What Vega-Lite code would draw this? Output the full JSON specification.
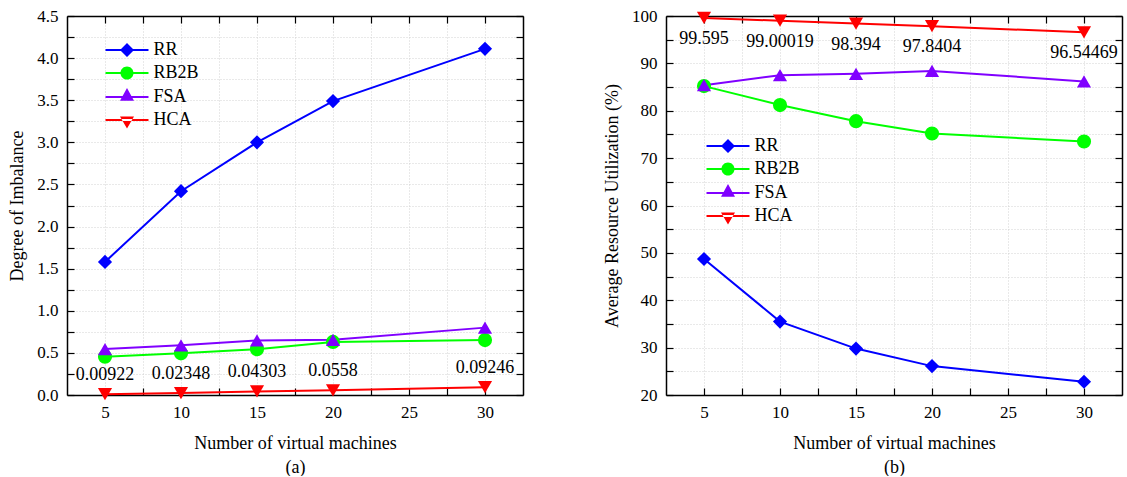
{
  "$schema": "https://vega.github.io/schema/vega-lite/v6.json",
  "background": "white",
  "padding": {"left": 8, "top": 7, "right": 2, "bottom": 0},
  "autosize": {"type": "pad"},
  "bounds": "flush",
  "spacing": 143,
  "config": {
    "font": "Liberation Serif",
    "view": {"stroke": null},
    "axis": {
      "labelFont": "Liberation Serif", "labelFontSize": 17, "labelColor": "black",
      "titleFont": "Liberation Serif", "titleFontSize": 18, "titleFontWeight": "normal", "titleColor": "black",
      "domainColor": "black", "domainWidth": 1.5,
      "tickColor": "black", "tickWidth": 1.2, "tickSize": -7,
      "gridColor": "#c8c8c8", "gridDash": [1, 2], "gridWidth": 0.8,
      "labelPadding": 16, "labelOverlap": false, "labelFlush": false, "labelBound": false
    },
    "legend": {
      "title": null, "orient": "none", "padding": 0,
      "symbolSize": 196, "symbolStrokeWidth": 0, "symbolOpacity": 1,
      "labelFont": "Liberation Serif", "labelFontSize": 18, "labelColor": "black",
      "labelOffset": 17.5, "rowPadding": 5
    }
  },
  "datasets": {
    "imbalance": [
      {"vm": 5, "algo": "RR", "value": 1.58},
      {"vm": 10, "algo": "RR", "value": 2.42},
      {"vm": 15, "algo": "RR", "value": 3.0},
      {"vm": 20, "algo": "RR", "value": 3.49},
      {"vm": 30, "algo": "RR", "value": 4.11},
      {"vm": 5, "algo": "RB2B", "value": 0.455},
      {"vm": 10, "algo": "RB2B", "value": 0.495},
      {"vm": 15, "algo": "RB2B", "value": 0.543},
      {"vm": 20, "algo": "RB2B", "value": 0.63},
      {"vm": 30, "algo": "RB2B", "value": 0.652},
      {"vm": 5, "algo": "FSA", "value": 0.545},
      {"vm": 10, "algo": "FSA", "value": 0.59},
      {"vm": 15, "algo": "FSA", "value": 0.648},
      {"vm": 20, "algo": "FSA", "value": 0.655},
      {"vm": 30, "algo": "FSA", "value": 0.8},
      {"vm": 5, "algo": "HCA", "value": 0.00922},
      {"vm": 10, "algo": "HCA", "value": 0.02348},
      {"vm": 15, "algo": "HCA", "value": 0.04303},
      {"vm": 20, "algo": "HCA", "value": 0.0558},
      {"vm": 30, "algo": "HCA", "value": 0.09246}
    ],
    "utilization": [
      {"vm": 5, "algo": "RR", "value": 48.7},
      {"vm": 10, "algo": "RR", "value": 35.5},
      {"vm": 15, "algo": "RR", "value": 29.8},
      {"vm": 20, "algo": "RR", "value": 26.1},
      {"vm": 30, "algo": "RR", "value": 22.8},
      {"vm": 5, "algo": "RB2B", "value": 85.2},
      {"vm": 10, "algo": "RB2B", "value": 81.2},
      {"vm": 15, "algo": "RB2B", "value": 77.8},
      {"vm": 20, "algo": "RB2B", "value": 75.2},
      {"vm": 30, "algo": "RB2B", "value": 73.5},
      {"vm": 5, "algo": "FSA", "value": 85.4},
      {"vm": 10, "algo": "FSA", "value": 87.5},
      {"vm": 15, "algo": "FSA", "value": 87.8},
      {"vm": 20, "algo": "FSA", "value": 88.4},
      {"vm": 30, "algo": "FSA", "value": 86.2},
      {"vm": 5, "algo": "HCA", "value": 99.595},
      {"vm": 10, "algo": "HCA", "value": 99.00019},
      {"vm": 15, "algo": "HCA", "value": 98.394},
      {"vm": 20, "algo": "HCA", "value": 97.8404},
      {"vm": 30, "algo": "HCA", "value": 96.54469}
    ]
  },
  "hconcat": [
    {
      "width": 456, "height": 379,
      "data": {"name": "imbalance"},
      "resolve": {"scale": {"shape": "independent", "color": "independent"}, "axis": {"x": "independent", "y": "independent"}},
      "layer": [
        {
          "mark": {"type": "line", "strokeWidth": 2},
          "encoding": {
            "x": {"field": "vm", "type": "quantitative", "scale": {"domain": [2.5, 32.5], "nice": false, "zero": false},
              "axis": {"orient": "bottom", "values": [5, 7.5, 10, 12.5, 15, 17.5, 20, 22.5, 25, 27.5, 30],
                "labelExpr": "datum.value % 5 === 0 ? datum.label : ''", "grid": true,
                "title": ["Number of virtual machines", "(a)"], "titlePadding": 14, "titleLineHeight": 24,
                "encode": {"ticks": {"y2": {"condition": {"test": "datum.value % 5 === 0", "value": -7}, "value": -4}}}}},
            "y": {"field": "value", "type": "quantitative", "scale": {"domain": [0, 4.5], "nice": false, "zero": false},
              "axis": {"orient": "left", "values": [0, 0.25, 0.5, 0.75, 1, 1.25, 1.5, 1.75, 2, 2.25, 2.5, 2.75, 3, 3.25, 3.5, 3.75, 4, 4.25, 4.5],
                "format": ".1f", "labelExpr": "round(datum.value * 4) % 2 === 0 ? datum.label : ''", "grid": true,
                "title": "Degree of Imbalance", "titlePadding": 10,
                "encode": {"ticks": {"x2": {"condition": {"test": "round(datum.value * 4) % 2 === 0", "value": 7}, "value": 4}}}}},
            "color": {"field": "algo", "type": "nominal", "scale": {"domain": ["RR", "RB2B", "FSA", "HCA"], "range": ["#0000ff", "#00ff00", "#8000ff", "#ff0000"]}, "legend": null}
          }
        },
        {
          "mark": {"type": "point", "filled": true, "opacity": 1, "size": 200},
          "encoding": {
            "x": {"field": "vm", "type": "quantitative", "axis": null},
            "y": {"field": "value", "type": "quantitative", "axis": null},
            "color": {"field": "algo", "type": "nominal", "scale": {"domain": ["RR", "RB2B", "FSA", "HCA"], "range": ["#0000ff", "#00ff00", "#8000ff", "#ff0000"]}, "legend": null},
            "shape": {"field": "algo", "type": "nominal", "scale": {"domain": ["RR", "RB2B", "FSA", "HCA"], "range": ["diamond", "circle", "triangle-up", "triangle-down"]}, "legend": null}
          }
        },
        {
          "transform": [{"filter": "datum.algo === 'HCA'"}],
          "mark": {"type": "text", "dy": -19, "fontSize": 18, "font": "Liberation Serif", "color": "black", "align": "center", "baseline": "middle"},
          "encoding": {
            "x": {"field": "vm", "type": "quantitative", "axis": null},
            "y": {"field": "value", "type": "quantitative", "axis": null},
            "text": {"field": "value", "type": "nominal"}
          }
        },
        {
          "transform": [{"filter": "datum.vm < 0"}],
          "mark": {"type": "point", "filled": true},
          "encoding": {
            "x": {"field": "vm", "type": "quantitative",
              "axis": {"orient": "top", "values": [5, 7.5, 10, 12.5, 15, 17.5, 20, 22.5, 25, 27.5, 30], "labels": false, "grid": false, "title": null,
                "encode": {"ticks": {"y2": {"condition": {"test": "datum.value % 5 === 0", "value": 7}, "value": 4}}}}},
            "y": {"field": "value", "type": "quantitative",
              "axis": {"orient": "right", "values": [0, 0.25, 0.5, 0.75, 1, 1.25, 1.5, 1.75, 2, 2.25, 2.5, 2.75, 3, 3.25, 3.5, 3.75, 4, 4.25, 4.5], "labels": false, "grid": false, "title": null,
                "encode": {"ticks": {"x2": {"condition": {"test": "round(datum.value * 4) % 2 === 0", "value": -7}, "value": -4}}}}},
            "color": {"field": "algo", "type": "nominal", "scale": {"domain": ["RR", "RB2B", "FSA", "HCA"], "range": ["#0000ff", "#00ff00", "#8000ff", "#ff0000"]},
              "legend": {"orient": "none", "legendX": 51, "legendY": 25}},
            "shape": {"field": "algo", "type": "nominal",
              "scale": {"domain": ["RR", "RB2B", "FSA", "HCA"], "range": [
                "M-3.07,-0.15L3.07,-0.15L3.07,0.15L-3.07,0.15ZM-1,0L0,-1L1,0L0,1Z",
                "M-3.07,-0.15L3.07,-0.15L3.07,0.15L-3.07,0.15ZM0.93,0A0.93,0.93,0,1,1,-0.93,0A0.93,0.93,0,1,1,0.93,0Z",
                "M-3.07,-0.15L3.07,-0.15L3.07,0.15L-3.07,0.15ZM0,-1.3L1,0.55L-1,0.55Z",
                "M-3.07,-0.15L3.07,-0.15L3.07,0.15L-3.07,0.15ZM0,1.2L1,-0.5L-1,-0.5Z"]},
              "legend": {"orient": "none", "legendX": 51, "legendY": 25}}
          }
        }
      ]
    },
    {
      "width": 456, "height": 379,
      "data": {"name": "utilization"},
      "resolve": {"scale": {"shape": "independent", "color": "independent"}, "axis": {"x": "independent", "y": "independent"}},
      "layer": [
        {
          "mark": {"type": "line", "strokeWidth": 2},
          "encoding": {
            "x": {"field": "vm", "type": "quantitative", "scale": {"domain": [2.5, 32.5], "nice": false, "zero": false},
              "axis": {"orient": "bottom", "values": [5, 7.5, 10, 12.5, 15, 17.5, 20, 22.5, 25, 27.5, 30],
                "labelExpr": "datum.value % 5 === 0 ? datum.label : ''", "grid": true,
                "title": ["Number of virtual machines", "(b)"], "titlePadding": 14, "titleLineHeight": 24,
                "encode": {"ticks": {"y2": {"condition": {"test": "datum.value % 5 === 0", "value": -7}, "value": -4}}}}},
            "y": {"field": "value", "type": "quantitative", "scale": {"domain": [20, 100], "nice": false, "zero": false},
              "axis": {"orient": "left", "values": [20, 25, 30, 35, 40, 45, 50, 55, 60, 65, 70, 75, 80, 85, 90, 95, 100],
                "labelExpr": "datum.value % 10 === 0 ? datum.label : ''", "grid": true,
                "title": "Average Resource Utilization (%)", "titlePadding": 10,
                "encode": {"ticks": {"x2": {"condition": {"test": "datum.value % 10 === 0", "value": 7}, "value": 4}}}}},
            "color": {"field": "algo", "type": "nominal", "scale": {"domain": ["RR", "RB2B", "FSA", "HCA"], "range": ["#0000ff", "#00ff00", "#8000ff", "#ff0000"]}, "legend": null}
          }
        },
        {
          "mark": {"type": "point", "filled": true, "opacity": 1, "size": 200},
          "encoding": {
            "x": {"field": "vm", "type": "quantitative", "axis": null},
            "y": {"field": "value", "type": "quantitative", "axis": null},
            "color": {"field": "algo", "type": "nominal", "scale": {"domain": ["RR", "RB2B", "FSA", "HCA"], "range": ["#0000ff", "#00ff00", "#8000ff", "#ff0000"]}, "legend": null},
            "shape": {"field": "algo", "type": "nominal", "scale": {"domain": ["RR", "RB2B", "FSA", "HCA"], "range": ["diamond", "circle", "triangle-up", "triangle-down"]}, "legend": null}
          }
        },
        {
          "transform": [{"filter": "datum.algo === 'HCA'"}],
          "mark": {"type": "text", "dy": 21, "fontSize": 18, "font": "Liberation Serif", "color": "black", "align": "center", "baseline": "middle"},
          "encoding": {
            "x": {"field": "vm", "type": "quantitative", "axis": null},
            "y": {"field": "value", "type": "quantitative", "axis": null},
            "text": {"field": "value", "type": "nominal"}
          }
        },
        {
          "transform": [{"filter": "datum.vm < 0"}],
          "mark": {"type": "point", "filled": true},
          "encoding": {
            "x": {"field": "vm", "type": "quantitative",
              "axis": {"orient": "top", "values": [5, 7.5, 10, 12.5, 15, 17.5, 20, 22.5, 25, 27.5, 30], "labels": false, "grid": false, "title": null,
                "encode": {"ticks": {"y2": {"condition": {"test": "datum.value % 5 === 0", "value": 7}, "value": 4}}}}},
            "y": {"field": "value", "type": "quantitative",
              "axis": {"orient": "right", "values": [20, 25, 30, 35, 40, 45, 50, 55, 60, 65, 70, 75, 80, 85, 90, 95, 100], "labels": false, "grid": false, "title": null,
                "encode": {"ticks": {"x2": {"condition": {"test": "datum.value % 10 === 0", "value": -7}, "value": -4}}}}},
            "color": {"field": "algo", "type": "nominal", "scale": {"domain": ["RR", "RB2B", "FSA", "HCA"], "range": ["#0000ff", "#00ff00", "#8000ff", "#ff0000"]},
              "legend": {"orient": "none", "legendX": 53, "legendY": 121}},
            "shape": {"field": "algo", "type": "nominal",
              "scale": {"domain": ["RR", "RB2B", "FSA", "HCA"], "range": [
                "M-3.07,-0.15L3.07,-0.15L3.07,0.15L-3.07,0.15ZM-1,0L0,-1L1,0L0,1Z",
                "M-3.07,-0.15L3.07,-0.15L3.07,0.15L-3.07,0.15ZM0.93,0A0.93,0.93,0,1,1,-0.93,0A0.93,0.93,0,1,1,0.93,0Z",
                "M-3.07,-0.15L3.07,-0.15L3.07,0.15L-3.07,0.15ZM0,-1.3L1,0.55L-1,0.55Z",
                "M-3.07,-0.15L3.07,-0.15L3.07,0.15L-3.07,0.15ZM0,1.2L1,-0.5L-1,-0.5Z"]},
              "legend": {"orient": "none", "legendX": 53, "legendY": 121}}
          }
        }
      ]
    }
  ]
}
